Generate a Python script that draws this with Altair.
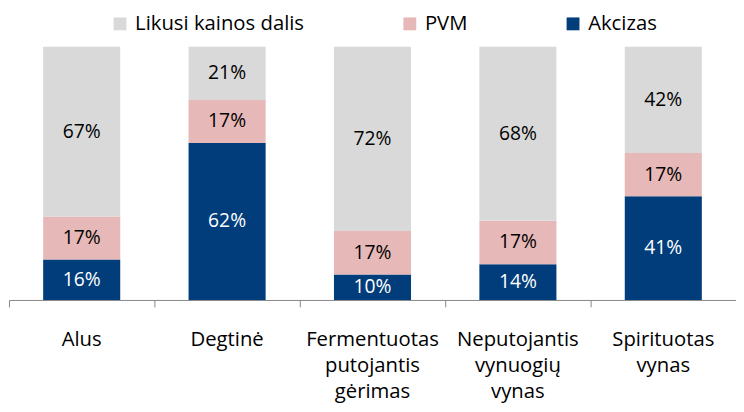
import altair as alt
import pandas as pd

categories = ["Alus", "Degtinė", "Fermentuotas\nputojantis\ngėrimas", "Neputojantis\nvynuogių\nvynas", "Spirituotas\nvynas"]
akcizas = [16, 62, 10, 14, 41]
pvm = [17, 17, 17, 17, 17]
likusi = [67, 21, 72, 68, 42]
series = ["Likusi kainos dalis", "PVM", "Akcizas"]
colors = ["#d9d9d9", "#e6b8b7", "#003d7a"]

FONT = "Open Sans"

rows = []
for i, c in enumerate(categories):
    for s, vals, order, tc in [("Akcizas", akcizas, 0, "#ffffff"), ("PVM", pvm, 1, "#000000"), ("Likusi kainos dalis", likusi, 2, "#000000")]:
        rows.append({"cat": c, "series": s, "value": vals[i], "ord": order, "tc": tc})
df = pd.DataFrame(rows)

base = alt.Chart(df).transform_stack(
    stack="value", groupby=["cat"], sort=[alt.SortField("ord", order="ascending")],
    offset="normalize", as_=["y0", "y1"]
).transform_calculate(mid="(datum.y0 + datum.y1) / 2", lbl="datum.value + '%'")

x = alt.X("cat:N", sort=categories, title=None,
          scale=alt.Scale(paddingInner=0, paddingOuter=0),
          axis=alt.Axis(labelAngle=0, bandPosition=0, labelExpr="split(datum.value, '\\n')",
                        labelFont=FONT, labelFontSize=20.5, labelLineHeight=26.5, labelColor="#000000",
                        labelPadding=23, tickSize=7, tickColor="#868686", domainColor="#868686",
                        labelLimit=200))

bars = base.mark_bar(width={"band": 0.53}).encode(
    x=x,
    y=alt.Y("y0:Q", scale=alt.Scale(domain=[0, 1]), axis=None),
    y2="y1:Q",
    color=alt.Color("series:N", scale=alt.Scale(domain=series, range=colors),
                    legend=alt.Legend(title=None, orient="none", direction="horizontal",
                                      legendX=102, legendY=-33.5, columnPadding=96,
                                      symbolType="square", symbolSize=169, symbolStrokeWidth=0,
                                      labelFont=FONT, labelFontSize=20.5, labelColor="#000000",
                                      labelOffset=5, padding=0, labelLimit=300)),
)

texts = base.mark_text(font=FONT, fontSize=19.5, baseline="middle").encode(
    x=alt.X("cat:N", sort=categories),
    y=alt.Y("mid:Q"),
    text="lbl:N",
    color=alt.Color("tc:N", scale=None),
)

chart = alt.layer(bars, texts).properties(
    width=735, height=256,
    autosize=alt.AutoSizeParams(type="none"),
    padding={"left": 1, "top": 37, "right": 0, "bottom": 103},
).configure_view(stroke=None).configure_axisY(grid=False)

chart.save("out.html", embed_options={"renderer": "svg", "actions": False})
